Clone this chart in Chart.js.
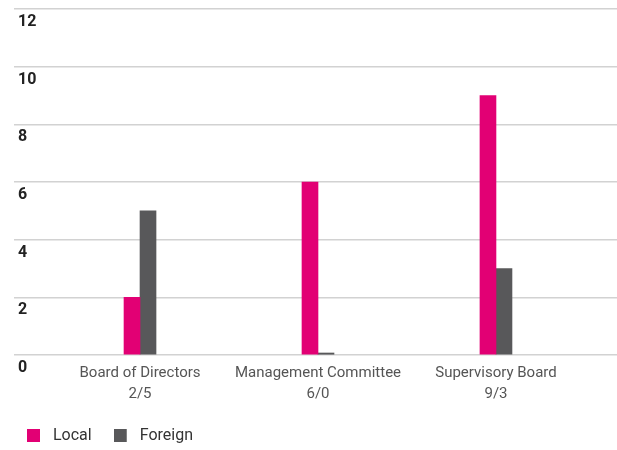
<!DOCTYPE html>
<html>
<head>
<meta charset="utf-8">
<script src="https://cdn.jsdelivr.net/npm/chart.js@4/dist/chart.umd.min.js"></script>
<style>
html,body{margin:0;padding:0;background:#fff;}
#wrap{width:617px;height:450px;position:relative;}
</style>
</head>
<body>
<div id="wrap"><canvas id="c"></canvas></div>
<script>
const categories = ['Board of Directors', 'Management Committee', 'Supervisory Board'];
const localValues = [2, 6, 9];
const foreignValues = [5, 0, 3];
const yTicks = [0, 2, 4, 6, 8, 10, 12];
const seriesNames = ['Local', 'Foreign'];
const colors = ['#E20074', '#58585A'];

function legendSwatch(color) {
  const cv = document.createElement('canvas');
  cv.width = 18; cv.height = 13;
  const g = cv.getContext('2d');
  g.fillStyle = color;
  g.fillRect(0, 0, 13, 13);
  return cv;
}

const ctx = document.getElementById('c');
const chart = new Chart(ctx, {
  type: 'bar',
  data: {
    datasets: [
      {
        label: seriesNames[0],
        data: localValues.map((v, i) => ({x: i, y: v})),
        backgroundColor: colors[0],
        barThickness: 16,
        pointStyle: legendSwatch(colors[0])
      },
      {
        label: seriesNames[1],
        data: foreignValues.map((v, i) => ({x: i, y: v})),
        backgroundColor: colors[1],
        barThickness: 16,
        minBarLength: 2,
        pointStyle: legendSwatch(colors[1])
      }
    ]
  },
  options: {
    responsive: true,
    maintainAspectRatio: false,
    animation: false,
    layout: { autoPadding: false, padding: { top: 9, left: 5, right: 0, bottom: -3.5 } },
    plugins: {
      tooltip: { enabled: false },
      legend: {
        position: 'bottom',
        align: 'start',
        labels: {
          usePointStyle: true,
          pointStyleWidth: 18,
          boxHeight: 13,
          padding: 22,
          color: '#333',
          font: { family: 'Roboto', size: 16 }
        }
      }
    },
    scales: {
      x: {
        type: 'linear',
        offset: false,
        min: -0.708,
        max: 2.68,
        grid: { display: false, drawTicks: false },
        border: { display: false },
        afterBuildTicks: (scale) => { scale.ticks = categories.map((c, i) => ({ value: i })); },
        afterFit: (scale) => { scale.height = 50.5; },
        ticks: {
          padding: 7,
          color: '#555',
          font: { family: 'Roboto', size: 15, lineHeight: 1.45 },
          maxRotation: 0,
          autoSkip: false,
          callback: (v) => [categories[v], localValues[v] + '/' + foreignValues[v]]
        }
      },
      y: {
        min: 0,
        max: 12,
        afterBuildTicks: (scale) => { scale.ticks = yTicks.map(v => ({ value: v })); },
        afterFit: (scale) => { scale.width = 9; scale.paddingTop = 0; scale.paddingBottom = 0; },
        grid: { color: '#d2d2d2', lineWidth: 1.5, drawTicks: false },
        border: { display: false },
        ticks: {
          mirror: true,
          padding: 4,
          labelOffset: 13,
          color: '#222',
          font: { family: 'Roboto', size: 16, weight: 'bold' }
        }
      }
    }
  }
});
</script>
</body>
</html>
